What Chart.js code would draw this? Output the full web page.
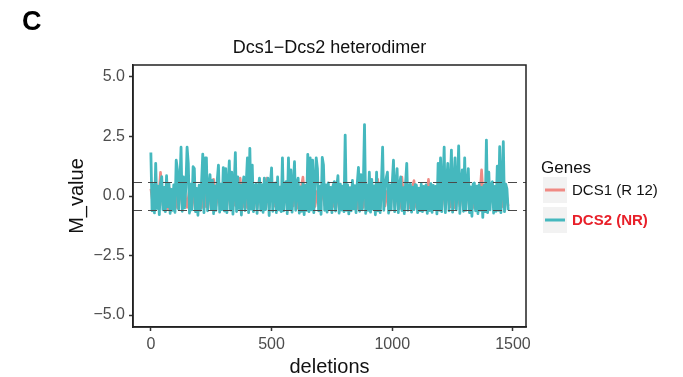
<!DOCTYPE html>
<html lang="en">
<head>
    <meta charset="UTF-8">
    <title>Dcs1-Dcs2 heterodimer</title>
    <script src="https://cdn.jsdelivr.net/npm/chart.js@4.4.0/dist/chart.umd.min.js"></script>
    <style>
        body { margin: 0; background: #fff; }
        canvas { display: block; }
    </style>
</head>
<body>
    <canvas id="chart" width="683" height="377"></canvas>

    <script>
        const dcs2Step = 5;
        const dcs2Values = [
            1.83,-0.62,0.48,-0.71,1.37,-0.52,0.41,-0.78,0.55,0.81,
            -0.58,0.36,-0.66,0.85,-0.45,0.52,-0.73,0.28,-0.6,0.47,
            -0.69,1.5,1.1,-0.55,0.44,2.05,-0.64,0.8,-0.5,0.38,
            2.05,1.37,-0.72,0.5,-0.58,1.23,1.15,-0.66,0.32,-0.81,
            0.46,-0.6,0.54,1.76,-0.7,1.6,1.6,-0.62,0.35,0.9,
            -0.55,0.67,-0.74,0.42,-0.6,0.67,1.3,-0.68,0.5,-0.57,
            1.19,-0.63,1.15,-0.7,0.45,1.47,-0.59,1.0,-0.76,0.38,
            1.82,-0.65,0.8,-0.52,0.47,-0.8,0.36,0.8,-0.61,0.52,
            1.6,-0.7,2.0,-0.55,1.3,-0.66,0.41,0.5,-0.73,0.33,
            0.75,-0.6,0.48,-0.69,0.75,-0.57,0.4,0.75,-0.82,0.45,
            1.18,-0.64,0.5,0.55,-0.7,0.8,-0.58,0.37,-0.66,1.6,
            -0.62,0.44,0.6,-0.74,1.6,-0.55,1.1,-0.68,0.42,1.44,
            -0.6,0.5,0.75,-0.72,0.38,-0.64,0.52,-0.78,0.45,-0.6,
            1.75,-0.66,1.6,-0.58,1.5,-0.7,0.49,1.6,1.15,-0.62,
            0.4,-0.77,1.62,1.3,-0.6,0.47,-0.68,0.55,-0.55,0.36,
            -0.7,0.44,0.6,-0.63,0.38,0.85,-0.72,0.5,-0.59,0.41,
            -0.66,2.56,-0.6,0.47,-0.75,0.35,-0.62,0.65,-0.54,0.43,
            -0.7,0.52,1.2,-0.64,0.9,-0.58,0.38,3.0,-0.73,0.46,
            -0.6,1.0,-0.68,0.7,-0.55,0.42,-0.79,1.0,-0.62,0.5,
            -0.7,0.45,2.05,-0.6,0.38,0.75,1.0,-0.72,0.47,-0.58,
            0.53,1.5,-0.66,0.4,1.15,-0.7,0.46,0.8,-0.61,0.35,
            -0.74,0.5,1.37,-0.6,0.42,0.5,-0.68,0.37,-0.57,0.48,
            0.45,-0.7,0.33,-0.62,0.5,-0.66,0.4,-0.58,0.47,-0.73,
            0.36,-0.61,0.52,-0.69,0.44,-0.56,0.4,-0.75,1.37,-0.6,
            1.6,-0.66,0.48,2.05,-0.7,0.5,1.37,-0.62,0.42,1.93,
            -0.68,0.47,1.6,-0.58,0.4,2.1,-0.73,0.52,1.1,-0.64,
            1.6,-0.6,0.45,1.15,-0.7,0.38,-0.85,0.5,0.55,-0.62,
            0.41,-0.74,0.48,-0.6,0.36,-0.9,0.44,-0.66,2.35,-0.7,
            1.0,-0.58,0.47,0.6,-0.72,0.4,-0.64,1.25,-0.6,2.07,
            -0.7,0.45,2.28,-0.66,0.5,0.3,-0.6
        ];
        const dcs1Step = 10;
        const dcs1Values = [
            0.3,-0.45,0.2,-0.5,1.0,-0.4,0.25,-0.55,0.3,-0.42,
            0.22,-0.5,0.35,-0.4,0.18,-0.48,0.3,-0.52,0.26,-0.44,
            0.32,-0.5,0.2,-0.46,0.28,-0.55,0.7,-0.42,0.24,-0.5,
            0.3,-0.45,0.22,-0.52,0.34,-0.4,0.2,0.75,-0.48,0.28,
            -0.5,0.25,-0.44,0.33,-0.52,0.2,-0.46,0.3,0.75,-0.5,
            0.26,-0.43,0.31,-0.55,0.22,-0.47,0.35,-0.5,0.24,-0.42,
            0.3,-0.52,0.2,0.8,-0.46,0.28,-0.5,0.33,-0.44,0.22,
            -0.55,0.3,-0.4,0.26,-0.5,0.34,-0.45,0.2,-0.52,0.29,
            -0.47,0.32,-0.5,0.23,-0.43,0.3,-0.55,0.27,-0.48,0.21,
            0.33,-0.5,0.25,-0.45,0.7,-0.52,0.3,-0.42,0.22,-0.5,
            0.35,-0.46,0.24,-0.53,0.8,-0.44,0.29,-0.5,0.2,0.65,
            -0.48,0.31,-0.42,0.26,-0.55,0.7,-0.47,0.33,-0.5,0.22,
            -0.44,0.3,-0.52,0.25,-0.46,0.34,-0.5,0.21,-0.43,0.28,
            -0.55,0.32,-0.47,0.24,-0.5,0.3,-0.45,1.1,-0.52,0.27,
            -0.48,0.33,-0.44,0.22,-0.5,0.3,-0.46,0.25,-0.42
        ];

        const xTicks = [0, 500, 1000, 1500];
        const yTicks = [-5, -2.5, 0, 2.5, 5];
        const thresholds = [0.585, -0.585];
        const geneNames = ['DCS1 (R 12)', 'DCS2 (NR)'];
        const geneColors = ['#f08a84', '#45b8be'];

        const FONT = "'Liberation Sans', Arial, sans-serif";

        function toPoints(values, step) {
            return values.map((v, i) => ({ x: i * step, y: v }));
        }

        function fmt(v) {
            return (v < 0 ? '\u2212' : '') + Math.abs(v).toFixed(1);
        }

        // extra drawing: panel box, threshold lines, titles, legend
        const decorations = {
            id: 'decorations',
            afterDatasetsDraw(chart) {
                const ctx = chart.ctx;
                const a = chart.chartArea;
                const y = chart.scales.y;

                ctx.save();
                ctx.strokeStyle = '#4a4a4a';
                ctx.lineWidth = 1.2;
                ctx.setLineDash([9, 6]);
                thresholds.forEach(t => {
                    const py = Math.round(y.getPixelForValue(t)) + 0.5;
                    ctx.beginPath();
                    ctx.moveTo(a.left, py);
                    ctx.lineTo(a.right, py);
                    ctx.stroke();
                });
                ctx.restore();
            },
            afterDraw(chart) {
                const ctx = chart.ctx;
                const a = chart.chartArea;
                ctx.save();

                // panel border
                ctx.strokeStyle = '#222';
                ctx.lineWidth = 1.5;
                ctx.strokeRect(a.left, a.top, a.right - a.left, a.bottom - a.top);

                // panel letter
                ctx.fillStyle = '#000';
                ctx.font = 'bold 27px ' + FONT;
                ctx.textAlign = 'left';
                ctx.textBaseline = 'middle';
                ctx.fillText('C', 22, 23);

                // title
                ctx.font = '18px ' + FONT;
                ctx.textAlign = 'center';
                ctx.fillStyle = '#111';
                ctx.fillText('Dcs1\u2212Dcs2 heterodimer', (a.left + a.right) / 2, 48);

                // axis titles
                ctx.font = '20px ' + FONT;
                ctx.fillText('deletions', (a.left + a.right) / 2, 367);
                ctx.save();
                ctx.translate(77, (a.top + a.bottom) / 2);
                ctx.rotate(-Math.PI / 2);
                ctx.fillText('M_value', 0, 0);
                ctx.restore();

                // legend
                ctx.textAlign = 'left';
                ctx.font = '17px ' + FONT;
                ctx.fillText('Genes', 541, 168);
                geneNames.forEach((name, i) => {
                    const cy = 190 + i * 30;
                    ctx.fillStyle = '#f2f2f2';
                    ctx.fillRect(543, cy - 13, 24, 26);
                    ctx.strokeStyle = geneColors[i];
                    ctx.lineWidth = 3;
                    ctx.beginPath();
                    ctx.moveTo(545, cy);
                    ctx.lineTo(565, cy);
                    ctx.stroke();
                    if (i === 1) {
                        ctx.font = 'bold 15px ' + FONT;
                        ctx.fillStyle = '#e8202a';
                    } else {
                        ctx.font = '15px ' + FONT;
                        ctx.fillStyle = '#111';
                    }
                    ctx.fillText(name, 572, cy + 1);
                });
                ctx.restore();
            }
        };

        new Chart(document.getElementById('chart'), {
            type: 'line',
            data: {
                datasets: [
                    {
                        label: geneNames[1],
                        data: toPoints(dcs2Values, dcs2Step),
                        borderColor: geneColors[1],
                        borderWidth: 2.8,
                        borderJoinStyle: 'round',
                        pointRadius: 0,
                        tension: 0
                    },
                    {
                        label: geneNames[0],
                        data: toPoints(dcs1Values, dcs1Step),
                        borderColor: geneColors[0],
                        borderWidth: 2.6,
                        borderJoinStyle: 'round',
                        pointRadius: 0,
                        tension: 0
                    }
                ]
            },
            options: {
                responsive: false,
                animation: false,
                devicePixelRatio: 1,
                layout: { padding: { top: 65, right: 157, left: 0, bottom: 0 } },
                plugins: {
                    legend: { display: false },
                    title: { display: false },
                    tooltip: { enabled: false }
                },
                scales: {
                    x: {
                        type: 'linear',
                        min: -74,
                        max: 1554,
                        afterBuildTicks: s => { s.ticks = xTicks.map(v => ({ value: v })); },
                        afterFit: s => { s.height = 50; },
                        grid: { drawOnChartArea: false, drawTicks: true, tickLength: 4, tickColor: '#333', tickWidth: 1.5 },
                        border: { display: true, color: '#222', width: 1.5 },
                        ticks: {
                            color: '#4d4d4d',
                            font: { family: FONT, size: 16 },
                            padding: 4,
                            maxRotation: 0,
                            callback: v => String(v)
                        }
                    },
                    y: {
                        type: 'linear',
                        min: -5.5,
                        max: 5.5,
                        afterBuildTicks: s => { s.ticks = yTicks.map(v => ({ value: v })); },
                        afterFit: s => { s.width = 133; },
                        grid: { drawOnChartArea: false, drawTicks: true, tickLength: 4, tickColor: '#333', tickWidth: 1.5 },
                        border: { display: true, color: '#222', width: 1.5 },
                        ticks: {
                            color: '#4d4d4d',
                            font: { family: FONT, size: 16 },
                            padding: 4,
                            callback: v => fmt(v)
                        }
                    }
                }
            },
            plugins: [decorations]
        });
    </script>
</body>
</html>
